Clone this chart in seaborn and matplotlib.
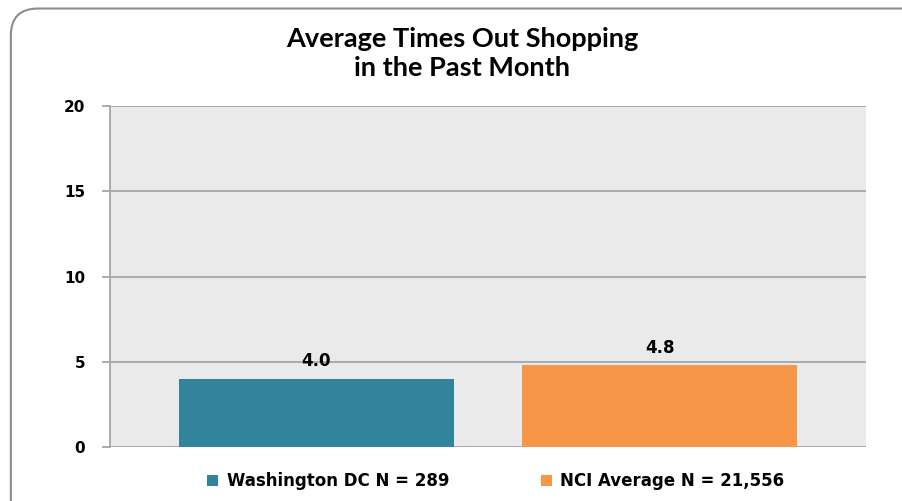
import numpy as np
import pandas as pd
import matplotlib
matplotlib.use("Agg")
import matplotlib.pyplot as plt
import seaborn as sns
from matplotlib.patches import FancyBboxPatch, Patch

series = ["Washington DC N = 289", "NCI Average N = 21,556"]
values = [4.0, 4.8]
colors = ["#31849B", "#F79646"]
yticks = [0, 5, 10, 15, 20]

df = pd.DataFrame({"group": series, "value": values})

sns.set_style("white")
plt.rcParams["text.color"] = "black"
plt.rcParams["ytick.color"] = "#A6A6A6"
plt.rcParams["ytick.labelcolor"] = "black"

fig = plt.figure(figsize=(9.03, 5.01), dpi=100)
ax = fig.add_axes([0.1218, 0.1078, 0.8372, 0.6806])

# rounded outer frame
frame = FancyBboxPatch((0.012, -0.05), 1.05, 1.033, boxstyle="round,pad=0,rounding_size=0.03",
                       transform=fig.transFigure, facecolor="none", edgecolor="#8C8C8C",
                       linewidth=1.5, mutation_aspect=903 / 501)
fig.patches.append(frame)

sns.barplot(data=df, x="group", y="value", hue="group", palette=colors, saturation=1,
            width=0.8, legend=False, ax=ax, zorder=3, edgecolor="none")

ax.set_facecolor("#EAEAEA")
ax.set_xlim(-0.6, 1.6)
ax.set_ylim(0, 20)
ax.set_yticks(yticks)
ax.set_yticklabels([str(t) for t in yticks], fontsize=11, fontweight="bold",
                   family="DejaVu Sans")
ax.set_xticks([])
ax.set_xlabel("")
ax.set_ylabel("")
ax.yaxis.grid(True, color="#A6A6A6", linewidth=1.3, zorder=0)
ax.set_axisbelow(True)
ax.tick_params(axis="y", length=6, width=1.3, color="#A6A6A6", pad=12, left=True)
for s in ["top", "right", "bottom"]:
    ax.spines[s].set_visible(False)
ax.spines["left"].set_color("#A6A6A6")
ax.spines["left"].set_linewidth(1.3)
ax.spines["left"].set_zorder(5)

for i, v in enumerate(values):
    ax.text(i, v + 0.5, f"{v:.1f}", ha="center", va="bottom", fontsize=12,
            fontweight="bold", family="DejaVu Sans", zorder=6)

fig.text(0.512, 0.893, "Average Times Out Shopping\nin the Past Month", ha="center",
         va="center", fontsize=19.5, fontweight="bold", family="Lato", linespacing=1.25)

handles = [Patch(facecolor=c, edgecolor="none") for c in colors]
fig.legend(handles, series, loc="center", bbox_to_anchor=(0.549, 0.04), ncol=2,
           frameon=False, prop={"family": "DejaVu Sans", "weight": "bold", "size": 12},
           handlelength=0.65, handleheight=0.65, handletextpad=0.5, columnspacing=5.5)

fig.savefig("out.png", dpi=100)
